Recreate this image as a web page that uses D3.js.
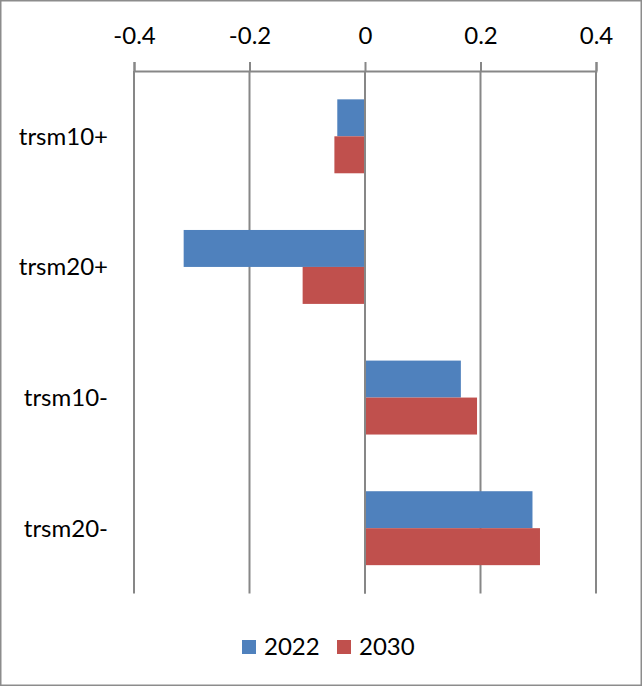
<!DOCTYPE html>
<html>
<head>
<meta charset="utf-8">
<script src="https://cdn.jsdelivr.net/npm/d3@7"></script>
<style>
  html, body { margin: 0; padding: 0; background: #fff; }
  svg { display: block; }
  text { font-family: Lato, "Open Sans", sans-serif; fill: #000; }
</style>
</head>
<body>
<svg id="chart" width="642" height="686"></svg>
<script>
// Chart data
const categories = ["trsm10+", "trsm20+", "trsm10-", "trsm20-"];
const seriesNames = ["2022", "2030"];
const values2022 = [-0.048, -0.314, 0.166, 0.290];
const values2030 = [-0.053, -0.108, 0.194, 0.303];
const tickValues = [-0.4, -0.2, 0, 0.2, 0.4];
const colors = ["#4F81BD", "#C0504D"];

const seriesValues = [values2022, values2030];
const rows = categories.map((c, i) => ({
  category: c,
  values: seriesNames.map((s, j) => ({ series: s, value: seriesValues[j][i] }))
}));

const svg = d3.select("#chart");
const W = 642, H = 686;
const fontSize = 24;

// Outer frame
svg.append("rect")
  .attr("x", 0.75).attr("y", 0.75)
  .attr("width", W - 1.5).attr("height", H - 1.5)
  .attr("fill", "#fff")
  .attr("stroke", "#8c8c8c")
  .attr("stroke-width", 1.5);

const plot = { left: 134, right: 596, top: 71, bottom: 593.5 };

const x = d3.scaleLinear().domain([-0.4, 0.4]).range([plot.left, plot.right]);
const y = d3.scaleBand().domain(categories)
  .range([plot.top, plot.bottom])
  .paddingInner(0.434).paddingOuter(0.217);
const ySub = d3.scaleBand().domain(seriesNames).range([0, y.bandwidth()]);

// Vertical gridlines
svg.append("g")
  .selectAll("line")
  .data(tickValues)
  .join("line")
  .attr("x1", d => x(d)).attr("x2", d => x(d))
  .attr("y1", plot.top).attr("y2", plot.bottom)
  .attr("stroke", "#878787")
  .attr("stroke-width", 2);

// Bars
const groups = svg.append("g")
  .selectAll("g")
  .data(rows)
  .join("g")
  .attr("transform", d => `translate(0,${y(d.category)})`);

groups.selectAll("rect")
  .data(d => d.values)
  .join("rect")
  .attr("x", d => x(Math.min(0, d.value)))
  .attr("width", d => Math.abs(x(d.value) - x(0)))
  .attr("y", d => ySub(d.series))
  .attr("height", ySub.bandwidth())
  .attr("fill", d => colors[seriesNames.indexOf(d.series)]);

// Zero line drawn over the bars
svg.append("line")
  .attr("x1", x(0)).attr("x2", x(0))
  .attr("y1", plot.top).attr("y2", plot.bottom)
  .attr("stroke", "#878787").attr("stroke-width", 2);

// Top axis
const axis = d3.axisTop(x)
  .tickValues(tickValues)
  .tickFormat(d => d === 0 ? "0" : d3.format(".1f")(d).replace("−", "-"))
  .tickSize(9)
  .tickPadding(18);

const axisG = svg.append("g")
  .attr("transform", `translate(0,${plot.top})`)
  .call(axis);
axisG.select(".domain").attr("stroke", "#878787").attr("stroke-width", 2);
axisG.selectAll(".tick line").attr("stroke", "#878787").attr("stroke-width", 2);
axisG.selectAll(".tick text")
  .attr("font-family", "Lato, 'Open Sans', sans-serif")
  .attr("font-size", fontSize)
  .attr("fill", "#000");

// Category labels
svg.append("g")
  .selectAll("text")
  .data(categories)
  .join("text")
  .attr("x", 108)
  .attr("y", d => y(d) + y.bandwidth() / 2)
  .attr("dy", "0.35em")
  .attr("text-anchor", "end")
  .attr("font-size", fontSize)
  .text(d => d);

// Legend
const legend = svg.append("g").attr("transform", "translate(242,640)");
const legendOffsets = [0, 95];
seriesNames.forEach((s, i) => {
  const g = legend.append("g").attr("transform", `translate(${legendOffsets[i]},0)`);
  g.append("rect").attr("width", 14).attr("height", 14).attr("fill", colors[i]);
  g.append("text")
    .attr("x", 22).attr("y", 7).attr("dy", "0.35em")
    .attr("font-size", fontSize)
    .text(s);
});
</script>
</body>
</html>
